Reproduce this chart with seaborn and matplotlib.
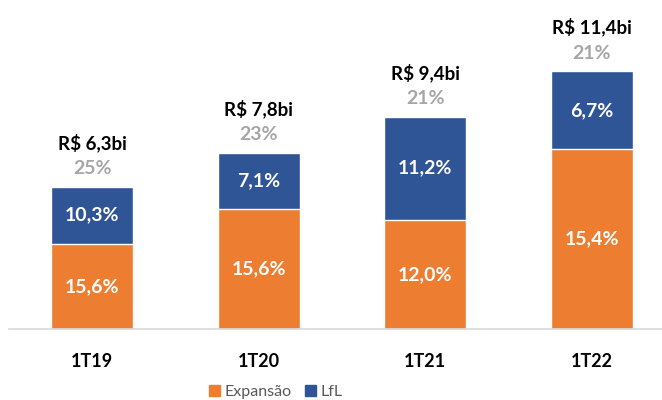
import matplotlib
matplotlib.use('Agg')
import matplotlib.pyplot as plt
import seaborn as sns
import pandas as pd
from matplotlib.patches import Patch

# values
periods = ['1T19', '1T20', '1T21', '1T22']
revenue_bi = [6.3, 7.8, 9.4, 11.4]            # total bar height (R$ bi)
expansao_bi = [3.78, 5.33, 4.84, 7.95]        # orange part of each bar (R$ bi)
expansao_lbl = ['15,6%', '15,6%', '12,0%', '15,4%']
lfl_lbl = ['10,3%', '7,1%', '11,2%', '6,7%']
growth_lbl = ['25%', '23%', '21%', '21%']
revenue_lbl = ['R$ 6,3bi', 'R$ 7,8bi', 'R$ 9,4bi', 'R$ 11,4bi']

df = pd.DataFrame({'periodo': periods, 'total': revenue_bi, 'expansao': expansao_bi})

orange = '#ED7D31'
blue = '#2F5597'

sns.set_style('white')
plt.rcParams['font.family'] = ['Lato', 'DejaVu Sans']

fig = plt.figure(figsize=(6.62, 4.0), dpi=100)
ax = fig.add_axes([9 / 662, 1 - 329 / 400, 666 / 662, 329 / 400])

# blue = full bar, orange drawn over the lower part
sns.barplot(data=df, x='periodo', y='total', color=blue, width=0.49,
            saturation=1, ax=ax)
sns.barplot(data=df, x='periodo', y='expansao', color=orange, width=0.49,
            saturation=1, ax=ax)

ax.set_xlim(-0.5, 3.5)
ax.set_ylim(0, 329 / 22.6)

for i in range(len(periods)):
    exp = expansao_bi[i]
    tot = revenue_bi[i]
    ax.text(i, exp / 2, expansao_lbl[i], ha='center', va='center',
            color='white', fontsize=14, fontweight='bold')
    ax.text(i, exp + (tot - exp) / 2, lfl_lbl[i], ha='center', va='center',
            color='white', fontsize=14, fontweight='bold')
    ax.annotate(growth_lbl[i], (i, tot), xytext=(0, 18), textcoords='offset pixels',
                ha='center', va='center', color='#A6A6A6', fontsize=14,
                fontweight='bold')
    ax.annotate(revenue_lbl[i], (i, tot), xytext=(0, 44), textcoords='offset pixels',
                ha='center', va='center', color='black', fontsize=13.5,
                fontweight='bold')

for s in ['top', 'right', 'left']:
    ax.spines[s].set_visible(False)
ax.spines['bottom'].set_color('#D9D9D9')
ax.spines['bottom'].set_linewidth(1.2)
ax.set_yticks([])
ax.set_xlabel('')
ax.set_ylabel('')
ax.tick_params(axis='x', length=0, pad=17)
for t in ax.get_xticklabels():
    t.set_fontsize(13)
    t.set_fontweight('bold')
    t.set_color('black')

handles = [Patch(color=orange, label='Expansão'), Patch(color=blue, label='LfL')]
fig.legend(handles=handles, loc='center', bbox_to_anchor=(276 / 662, 1 - 392 / 400),
           ncol=2, frameon=False, fontsize=11.5, handlelength=0.7, handleheight=0.7,
           handletextpad=0.3, columnspacing=0.8, labelcolor='#595959')

fig.savefig('out.png', dpi=100)
